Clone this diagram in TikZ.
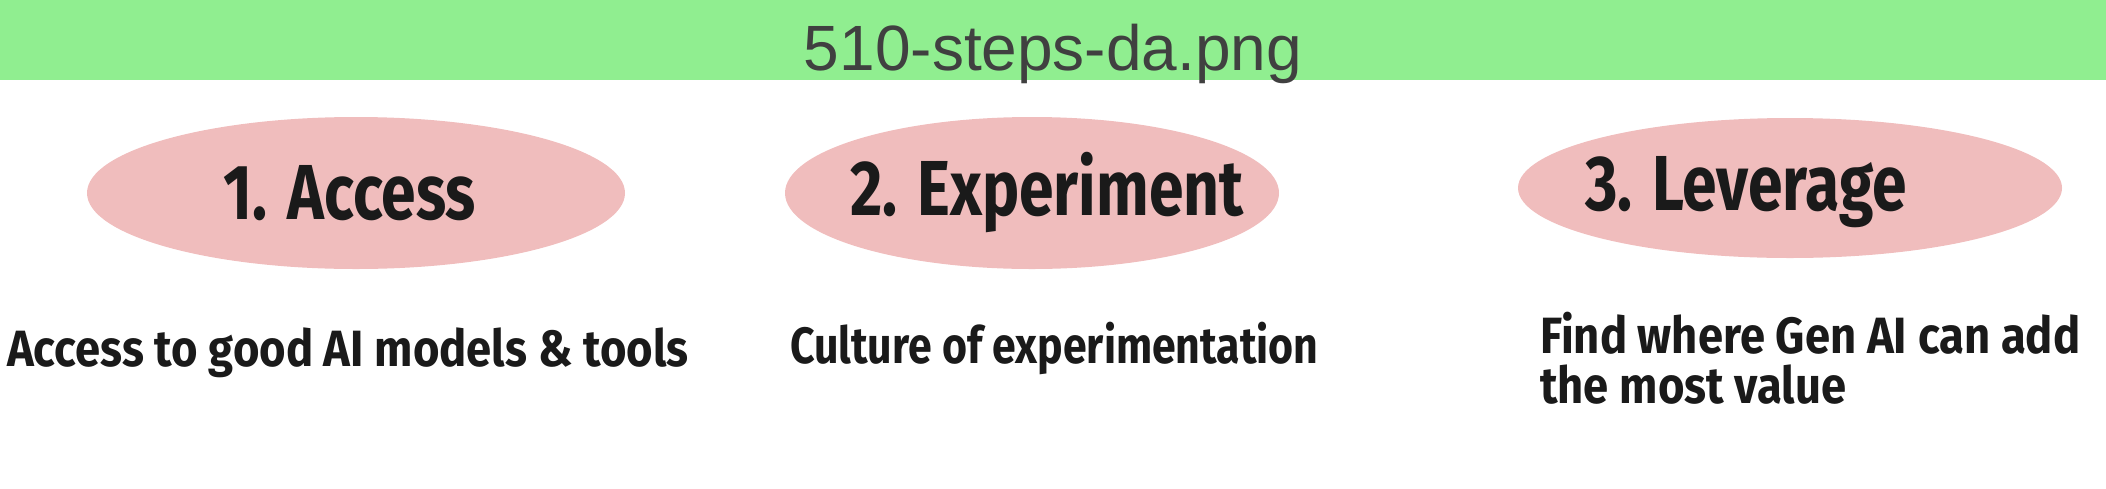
\documentclass[tikz,border=0pt]{standalone}
\usepackage{fontspec}
\setmainfont{Liberation Sans}
\newfontfamily\handfont[FakeStretch=0.8]{Fira Sans}
\newfontfamily\notefont[FakeStretch=0.89]{Fira Sans}
\newfontfamily\notefontnarrow[FakeStretch=0.84]{Fira Sans}
\usetikzlibrary{positioning,shapes.geometric}
\definecolor{bannergreen}{HTML}{90EE90}
\definecolor{bannertext}{HTML}{404040}
\definecolor{blobpink}{HTML}{F0BDBD}
\definecolor{inkblack}{HTML}{1A1A1A}
\tikzset{
  blob/.style={ellipse, fill=blobpink, inner sep=0pt},
  steptitle/.style={text=inkblack, inner sep=0pt, font=\handfont\bfseries\fontsize{78}{90}\selectfont},
  stepnote/.style={text=inkblack, inner sep=0pt, anchor=base west, align=left,
    font=\notefont\bfseries\fontsize{51}{50}\selectfont}
}
\begin{document}
\begin{tikzpicture}[x=1pt, y=-1pt]
  \useasboundingbox (0,0) rectangle (2106,488);
  % banner
  \fill[bannergreen] (0,0) rectangle (2106,80);
  \node[text=bannertext, inner sep=0pt, anchor=base, font=\fontsize{64}{70}\selectfont] (banner) at (1053,70) {510-steps-da.png};

  % the three steps
  \node[blob, minimum width=538pt, minimum height=152pt] (access) at (356,193) {};
  \node[blob, minimum width=494pt, minimum height=152pt] (experiment) at (1032,193) {};
  \node[blob, minimum width=544pt, minimum height=140pt] (leverage) at (1790,188) {};

  \node[steptitle] (accesstitle) at ([xshift=-6pt]access.center) {1. Access};
  \node[steptitle] (experimenttitle) at ([xshift=15pt]experiment.center) {2. Experiment};
  \node[steptitle] (leveragetitle) at ([xshift=-44pt, yshift=-4pt]leverage.center) {3. Leverage};

  % notes below
  \node[stepnote] (accessnote) at (7,366) {Access to good AI models \& tools};
  \node[stepnote, font=\notefontnarrow\bfseries\fontsize{51}{50}\selectfont] (experimentnote) at (790,363) {Culture of experimentation};
  \node[stepnote] (leveragenote) at (1540,403) {Find where Gen AI can add\\the most value};
\end{tikzpicture}
\end{document}
